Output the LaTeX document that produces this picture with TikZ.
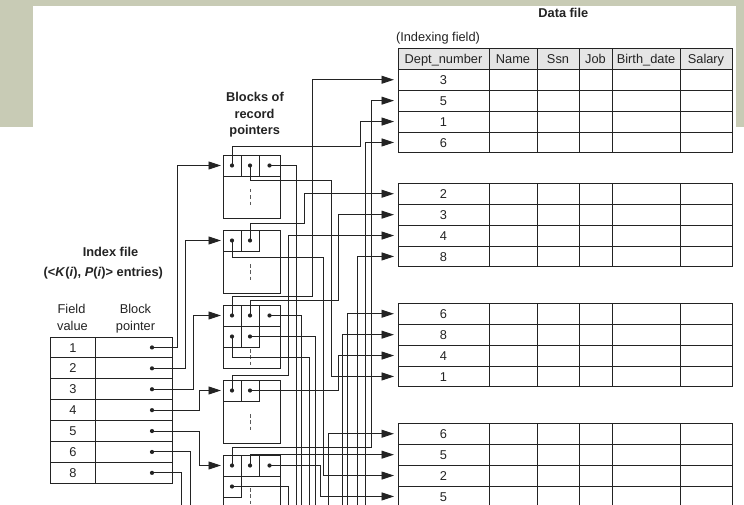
\documentclass[tikz,border=0pt]{standalone}
\usepackage{fontspec}
\setmainfont{Liberation Sans}
\usetikzlibrary{arrows.meta}
\definecolor{sage}{RGB}{200,203,181}
\definecolor{ink}{RGB}{35,35,35}
\definecolor{headfill}{RGB}{229,229,229}
\newcommand\diagfont{\fontsize{12.8}{15}\selectfont}

\begin{document}
\begin{tikzpicture}[x=1pt,y=-1pt,
  every node/.style={font=\diagfont, text=ink, inner sep=0pt, outer sep=0pt},
  line/.style={draw=ink, line width=0.95pt},
  wire/.style={line},
  tip/.style={-{Triangle[length=12.5pt,width=8pt]}},
  ptr/.style={line, tip, shorten >=4pt},
  ptrin/.style={line, tip, shorten >=2pt},
  txt/.style={anchor=base},
  btxt/.style={anchor=base, font=\diagfont\bfseries},
  hcell/.style={line, fill=headfill, minimum height=20.6pt, text height=9.2pt, text depth=0pt},
  dcell/.style={line, minimum width=91pt, minimum height=20.9pt, text height=10.2pt, text depth=0pt},
  icell/.style={line, minimum height=20.9pt, text height=9.2pt, text depth=0pt},
  blockbox/.style={line, minimum width=57pt, minimum height=63pt},
  pcell/.style={line, minimum width=18pt, minimum height=21pt,
    path picture={\fill[ink] (path picture bounding box.center) circle (2.1pt);}},
  pcellw/.style={pcell, minimum width=21pt},
  gap/.style={draw=ink!75, line width=0.95pt, dash pattern=on 3.5pt off 2.8pt},
  dot/.style={circle, fill=ink, minimum size=4.2pt}
]
\useasboundingbox (0,0) rectangle (744,505);
\clip (0,0) rectangle (744,505);

% slide backdrop
\fill[sage] (0,0) rectangle (744,505);
\fill[white] (33,6) rectangle (736,505);
\fill[white] (0,127) rectangle (744,505);

% ---------- data file ----------
\node[btxt] (tdata) at (563.3,17.3) {Data file};
\node[txt] (tindexing) at (438,42) {(Indexing field)};

\node[hcell, minimum width=91pt] (hDept) at (443.5,59) {Dept\_number};
\node[hcell, minimum width=48pt] (hName) at (513,59) {Name};
\node[hcell, minimum width=42pt] (hSsn) at (558,59) {Ssn};
\node[hcell, minimum width=33pt] (hJob) at (595.5,59) {Job};
\node[hcell, minimum width=68pt] (hBirth) at (646,59) {Birth\_date};
\node[hcell, minimum width=52pt] (hSalary) at (706,59) {Salary};

\foreach \g/\tp/\va/\vb/\vc/\vd in {A/69.3/3/5/1/6, B/183.3/2/3/4/8, C/303.3/6/8/4/1, D/423.3/6/5/2/5}{
  \foreach \k/\val in {1/\va,2/\vb,3/\vc,4/\vd}{
    \node[dcell] (\g\k) at (443.5,{\tp+20.9*(\k-0.5)}) {\val\hspace{11pt}};
    \draw[line] (489,{\tp+20.9*(\k-1)}) rectangle (732,{\tp+20.9*\k});
  }
  \foreach \cx in {537,579,612,680} \draw[line] (\cx,\tp) -- (\cx,{\tp+83.6});
}

% ---------- index file ----------
\node[btxt] (tindex) at (110.5,256) {Index file};
\node[btxt] (tentries) at (103.3,276.5) {(<\textit{K}(\textit{i}), \textit{P}(\textit{i})> entries)};
\node[txt] (tfield) at (71.5,313) {Field};
\node[txt] (tvalue) at (72.5,330) {value};
\node[txt] (tblock) at (135.5,313) {Block};
\node[txt] (tpointer) at (135.5,330) {pointer};

\foreach \k/\val in {1/1,2/2,3/3,4/4,5/5,6/6,7/8}{
  \node[icell, minimum width=45.7pt] (iv\k) at (72.85,{337+20.9*(\k-0.5)}) {\val};
  \node[icell, minimum width=76.6pt] (ip\k) at (134,{337+20.9*(\k-0.5)}) {};
  \node[dot] (d\k) at (152,{337+20.9*(\k-0.5)}) {};
}

% ---------- blocks of record pointers ----------
\node[btxt] (tblocks1) at (255,102) {Blocks of};
\node[btxt] (tblocks2) at (254.5,118.5) {record};
\node[btxt] (tblocks3) at (254.7,135) {pointers};

\foreach \b/\tp in {1/155,2/230,3/305,4/380,5/455}
  \node[blockbox] (blk\b) at (251.5,{\tp+31.5}) {};

\node[pcell] (b1a) at (232,165.5) {};
\node[pcell] (b1b) at (250,165.5) {};
\node[pcellw] (b1c) at (269.5,165.5) {};

\node[pcell] (b2a) at (232,240.5) {};
\node[pcell] (b2b) at (250,240.5) {};

\node[pcell] (b3a) at (232,315.5) {};
\node[pcell] (b3b) at (250,315.5) {};
\node[pcellw] (b3c) at (269.5,315.5) {};
\node[pcell] (b3d) at (232,336.5) {};
\node[pcell] (b3e) at (250,336.5) {};

\node[pcell] (b4a) at (232,390.5) {};
\node[pcell] (b4b) at (250,390.5) {};

\node[pcell] (b5a) at (232,465.5) {};
\node[pcell] (b5b) at (250,465.5) {};
\node[pcellw] (b5c) at (269.5,465.5) {};
\node[pcell] (b5d) at (232,486.5) {};

\draw[gap] (250.5,189) -- (250.5,207);
\draw[gap] (250.5,264) -- (250.5,281);
\draw[gap] (250.5,349) -- (250.5,366);
\draw[gap] (250.5,414) -- (250.5,431);
\draw[gap] (250.5,488) -- (250.5,512);

% entry points of the blocks
\coordinate (e1) at (blk1.west |- b1a.center);
\coordinate (e2) at (blk2.west |- b2a.center);
\coordinate (e3) at (blk3.west |- b3a.center);
\coordinate (e4) at (blk4.west |- b4a.center);
\coordinate (e5) at (blk5.west |- b5a.center);

% loose ends running on below
\coordinate (o1) at (296.7,515);
\coordinate (o2) at (301.7,515);
\coordinate (o3) at (309.3,515);
\coordinate (o4) at (315.7,515);
\coordinate (o5) at (288.3,515);
\coordinate (o6) at (365,515);
\coordinate (o7) at (357,515);
\coordinate (o8) at (347.7,515);
\coordinate (o9) at (342.3,515);
\coordinate (o10) at (328.3,515);
\coordinate (o11) at (190.7,515);
\coordinate (o12) at (181.7,515);

% index entries -> blocks
\draw[ptrin] (d1.center) -| ([xshift=-46pt]e1) -- (e1);
\draw[ptrin] (d2.center) -| ([xshift=-38pt]e2) -- (e2);
\draw[ptrin] (d3.center) -| ([xshift=-30pt]e3) -- (e3);
\draw[ptrin] (d4.center) -| ([xshift=-23.7pt]e4) -- (e4);
\draw[ptrin] (d5.center) -| ([xshift=-23.7pt]e5) -- (e5);
\draw[wire] (d6.center) -| (o11);
\draw[wire] (d7.center) -| (o12);

% block 1 (value 1)
\draw[ptr] (b1a.center) |- (360,146.7) |- (A3.west);
\draw[ptr] (b1b.center) |- (331.7,180.7) |- (C4.west);
\draw[wire] (b1c.center) -| (o1);
% block 2 (value 2)
\draw[ptr] (b2a.center) |- (323.3,257) |- (D3.west);
\draw[ptr] (b2b.center) |- (304,223.5) |- (B1.west);
% block 3 (value 3)
\draw[ptr] (b3a.center) |- (312.3,296) |- (A1.west);
\draw[ptr] (b3b.center) |- (338.5,300.7) |- (B2.west);
\draw[wire] (b3c.center) -| (o2);
\draw[wire] (b3d.center) |- (309.3,357) -- (o3);
\draw[wire] (b3e.center) -| (o4);
% block 4 (value 4)
\draw[ptr] (b4a.center) |- (288.3,375) |- (B3.west);
\draw[ptr] (b4b.center) -| ([xshift=-59.5pt]C3.west) -- (C3.west);
% block 5 (value 5)
\draw[ptr] (b5a.center) |- (371.7,447) |- (A2.west);
\draw[ptr] (b5b.center) |- (D2.west);
\draw[ptr] (b5c.center) -| ([xshift=-78pt]D4.west) -- (D4.west);
\draw[wire] (b5d.center) -| (o5);

% pointers coming up from the blocks further down
\draw[ptr] (o6) |- (A4.west);
\draw[ptr] (o7) |- (B4.west);
\draw[ptr] (o8) |- (C1.west);
\draw[ptr] (o9) |- (C2.west);
\draw[ptr] (o10) |- (D1.west);
\end{tikzpicture}
\end{document}
